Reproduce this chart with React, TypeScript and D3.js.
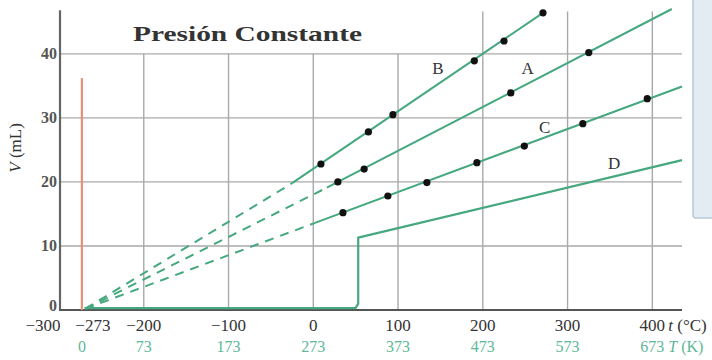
import React from "react";
import * as d3 from "d3";

// temperatura (°C) / volumen (mL)
const pointsB = [[9, 22.8], [65, 27.8], [94, 30.5], [190, 38.9], [225, 42.0], [271, 46.4]];
const pointsA = [[29, 20.0], [60, 22.0], [233, 33.9], [325, 40.2]];
const pointsC = [[35, 15.2], [88, 17.8], [134, 19.9], [193, 23.0], [249, 25.6], [318, 29.1], [394, 33.0]];

const solidB = [[-25, 19.8], [271, 46.4]];
const solidA = [[16, 19.1], [423, 47.0]];
const solidC = [[2, 13.6], [435, 34.9]];
const dashedB = [[-269, 0.2], [-25, 19.8]];
const dashedA = [[-269, 0.2], [16, 19.1]];
const dashedC = [[-269, 0.2], [2, 13.6]];
const lineD = [[-270, 0.3], [50, 0.3], [53, 1.0], [53, 11.3], [435, 23.4]];
const absZero = [[-273, 0], [-273, 36.2]];

const celsiusTicks = [-300, -273, -200, -100, 0, 100, 200, 300, 400];
const kelvinTicks = [-273, -200, -100, 0, 100, 200, 300, 400];
const yTicks = [0, 10, 20, 30, 40];
const gridX = [-200, -100, 0, 100, 200, 300, 400];
const seriesLabels = [
  { name: "B", t: 147, v: 36.9 },
  { name: "A", t: 253, v: 36.9 },
  { name: "C", t: 273, v: 27.6 },
  { name: "D", t: 355, v: 22.0 },
];

const green = "#45a87e";
const serif = "'Liberation Serif', 'DejaVu Serif', serif";

export default function App() {
  const x = d3.scaleLinear().domain([-300, 435]).range([59, 682]);
  const y = d3.scaleLinear().domain([0, 47]).range([310, 9]);
  const line = d3
    .line<number[]>()
    .x((d) => x(d[0]))
    .y((d) => y(d[1]));
  // las dos primeras etiquetas se separan para no pisarse
  const tickShift = (t: number) => (t === -300 ? -16 : t === -273 ? 11 : 0);

  return (
    <svg
      width={712}
      height={360}
      style={{ position: "absolute", left: 0, top: 0, background: "#fff" }}
      fontFamily={serif}
    >
      {/* caja lateral cortada */}
      <rect x={693} y={-5} width={30} height={223} rx={3} fill="#e3ecf3" stroke="#b9c8d6" strokeWidth={1.5} />

      {/* cuadrícula */}
      {yTicks.slice(1).map((v) => (
        <line key={"h" + v} x1={x(-300)} x2={x(435)} y1={y(v)} y2={y(v)} stroke="#a9a9a9" strokeWidth={1.4} />
      ))}
      {gridX.map((t) => (
        <line key={"v" + t} x1={x(t)} x2={x(t)} y1={y(0)} y2={t >= 200 ? y(46.6) : y(40)} stroke="#a9a9a9" strokeWidth={1.4} />
      ))}

      {/* ejes */}
      <line x1={x(-300) + 1} x2={x(-300) + 1} y1={y(0)} y2={y(46.8)} stroke="#666" strokeWidth={2.2} />
      <line x1={x(-300)} x2={x(435)} y1={y(0)} y2={y(0)} stroke="#555" strokeWidth={2.2} />

      {/* cero absoluto */}
      <path d={line(absZero) ?? ""} stroke="#e8907a" strokeWidth={2.2} fill="none" />

      {/* extrapolaciones */}
      {[dashedB, dashedA, dashedC].map((d, i) => (
        <path key={"d" + i} d={line(d) ?? ""} stroke={green} strokeWidth={2} fill="none" strokeDasharray="9 7" />
      ))}
      {[solidB, solidA, solidC].map((d, i) => (
        <path key={"s" + i} d={line(d) ?? ""} stroke={green} strokeWidth={2} fill="none" />
      ))}
      <path d={line(lineD) ?? ""} stroke={green} strokeWidth={2.2} fill="none" strokeLinejoin="round" />

      {/* puntos */}
      {[...pointsB, ...pointsA, ...pointsC].map((p, i) => (
        <circle key={"p" + i} cx={x(p[0])} cy={y(p[1])} r={3.6} fill="#111" />
      ))}

      {/* etiquetas de series */}
      {seriesLabels.map((s) => (
        <text key={s.name} x={x(s.t)} y={y(s.v)} fontSize={17} fill="#333" textAnchor="middle">
          {s.name}
        </text>
      ))}

      {/* título */}
      <text x={133} y={41} fontSize={21} fontWeight="bold" fill="#333" textLength={229} lengthAdjust="spacingAndGlyphs">
        Presión Constante
      </text>

      {/* eje y */}
      {yTicks.map((v) => (
        <text key={"y" + v} x={57} y={v === 0 ? y(v) + 1 : y(v) + 5} fontSize={16} fontWeight="bold" fill="#555" textAnchor="end">
          {v}
        </text>
      ))}
      <text transform={`translate(21,${y(25.3)}) rotate(-90)`} fontSize={17} fill="#333" textAnchor="middle">
        <tspan fontStyle="italic">V</tspan> (mL)
      </text>

      {/* eje x: Celsius y Kelvin */}
      {celsiusTicks.map((t) => (
        <text key={"c" + t} x={x(t) + tickShift(t)} y={331} fontSize={17} fill="#333" textAnchor="middle">
          {t < 0 ? "\u2212" + Math.abs(t) : t}
        </text>
      ))}
      <text x={x(400) + 16} y={331} fontSize={17} fill="#333">
        <tspan fontStyle="italic">t</tspan> (°C)
      </text>
      {kelvinTicks.map((t) => (
        <text key={"k" + t} x={x(t)} y={352} fontSize={16} fill="#5db897" textAnchor="middle">
          {t + 273}
        </text>
      ))}
      <text x={x(400) + 16} y={352} fontSize={16} fill="#5db897">
        <tspan fontStyle="italic">T</tspan> (K)
      </text>
    </svg>
  );
}
